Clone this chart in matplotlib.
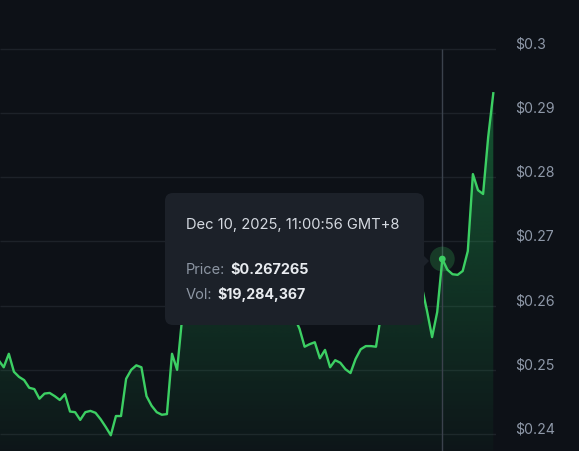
import numpy as np
import matplotlib
matplotlib.use("Agg")
import matplotlib.pyplot as plt
from matplotlib.patches import FancyBboxPatch, Polygon

plt.rcParams["font.family"] = ["Inter", "DejaVu Sans"]

# Price series (USD), evenly spaced samples
prices = [
    0.2515, 0.2504, 0.2525, 0.2497, 0.2489, 0.2484, 0.2472, 0.2470, 0.2455, 0.2463,
    0.2464, 0.2459, 0.2453, 0.2462, 0.2435, 0.2434, 0.2422, 0.2434, 0.2436, 0.2433,
    0.2423, 0.2411, 0.2398, 0.2428, 0.2428, 0.2486, 0.2500, 0.2507, 0.2504, 0.2459,
    0.2444, 0.2434, 0.2430, 0.2431, 0.2525, 0.2500, 0.2582, 0.2610, 0.2634, 0.2626,
    0.2649, 0.2660, 0.2642, 0.2654, 0.2670, 0.2657, 0.2676, 0.2665, 0.2649, 0.2660,
    0.2642, 0.2626, 0.2635, 0.2618, 0.2610, 0.2621, 0.2603, 0.2595, 0.2582, 0.2564,
    0.2536, 0.2540, 0.2543, 0.2518, 0.2531, 0.2504, 0.2515, 0.2511, 0.2501, 0.2495,
    0.2517, 0.2532, 0.2537, 0.2537, 0.2536, 0.2587, 0.2610, 0.2634, 0.2626, 0.2645,
    0.2637, 0.2657, 0.2649, 0.2629, 0.2592, 0.2551, 0.2590, 0.267265, 0.2656, 0.2649,
    0.2648, 0.2654, 0.2685, 0.2805, 0.2780, 0.2774, 0.2863, 0.2931,
]

# Hovered sample shown in the tooltip
hover_idx = 87
hover_time = "Dec 10, 2025, 11:00:56 GMT+8"
hover_price = 0.267265
hover_volume = 19284367

y_ticks = [0.24, 0.25, 0.26, 0.27, 0.28, 0.29, 0.30]
y_tick_labels = ["$0.24", "$0.25", "$0.26", "$0.27", "$0.28", "$0.29", "$0.3"]

BG = "#0d1117"
GRID = "#1d2229"
LINE = "#3ccf63"
AXIS_TEXT = "#8e98a8"
TIP_BG = "#1c2129"

W, H = 579, 452
fig = plt.figure(figsize=(W / 100, H / 100), dpi=100, facecolor=BG)
ax = fig.add_axes([0, 0, 496 / W, 1])
ax.set_facecolor(BG)
for s in ax.spines.values():
    s.set_visible(False)
ax.set_xticks([])
ax.set_yticks([])

x = np.arange(len(prices))
y = np.array(prices)
x0, x1 = 0.27, 97.53
y0, y1 = 0.23735, 0.30779
ax.set_xlim(x0, x1)
ax.set_ylim(y0, y1)

# horizontal grid
ax.hlines(y_ticks, x0, x1, color=GRID, lw=1.0, zorder=1)

# gradient area under the line
area = ax.fill_between(x, y, y0, facecolor="none", edgecolor="none")
n = 256
alpha = np.linspace(0.03, 0.38, n)
grad = np.zeros((n, 1, 4))
grad[..., 0] = 0x22 / 255
grad[..., 1] = 0xc5 / 255
grad[..., 2] = 0x5e / 255
grad[:, 0, 3] = alpha
im = ax.imshow(grad, origin="lower", aspect="auto",
               extent=[x0, x1, y0, y.max()], zorder=2, interpolation="bilinear")
im.set_clip_path(area.get_paths()[0], transform=ax.transData)

# price line
ax.plot(x, y, color=LINE, lw=1.7, zorder=4, solid_joinstyle="round")

# cursor and hovered point
ax.vlines(hover_idx, y0, 0.30, color="#3b424d", lw=1.0, zorder=3)
ax.scatter([hover_idx], [prices[hover_idx]], s=320, color="#3ccf63", alpha=0.22,
           edgecolors="none", zorder=5)
ax.scatter([hover_idx], [prices[hover_idx]], s=24, color=LINE, edgecolors="none", zorder=6)

# price axis labels on the right
for v, lab in zip(y_ticks, y_tick_labels):
    ax.annotate(lab, xy=(515 / W, v), xycoords=(fig.transFigure, ax.transData),
                xytext=(0, 4), textcoords="offset points", ha="left", va="center",
                color=AXIS_TEXT, fontsize=10.2, annotation_clip=False)

# tooltip (figure coordinates in inches)
def px(xp, yp):
    return xp / 100, (H - yp) / 100

tx0, ty0 = px(165, 326)
tx1, ty1 = px(424, 194)
tip = FancyBboxPatch((tx0, ty0), tx1 - tx0, ty1 - ty0,
                     boxstyle="round,pad=0,rounding_size=0.08",
                     transform=fig.dpi_scale_trans, facecolor=TIP_BG,
                     edgecolor="none", zorder=10)
fig.patches.append(tip)
arrow = Polygon([px(423, 256), px(429, 262), px(423, 268)], closed=True,
                transform=fig.dpi_scale_trans, facecolor=TIP_BG,
                edgecolor="none", zorder=10)
fig.patches.append(arrow)

tkw = dict(transform=fig.dpi_scale_trans, va="center", ha="left", zorder=11)
fig.text(*px(186, 225), hover_time, color="#d5dae1", fontsize=10.6, **tkw)
fig.text(*px(186, 270), "Price:", color="#8d96a3", fontsize=10.5, **tkw)
fig.text(*px(230, 270), f"${hover_price:.6f}", color="#e8ebef", fontsize=10.4,
         fontweight="bold", **tkw)
fig.text(*px(186, 295), "Vol:", color="#8d96a3", fontsize=10.5, **tkw)
fig.text(*px(217, 295), f"${hover_volume:,}", color="#e8ebef", fontsize=10.2,
         fontweight="bold", **tkw)

fig.savefig("out.png", dpi=100, facecolor=BG)
